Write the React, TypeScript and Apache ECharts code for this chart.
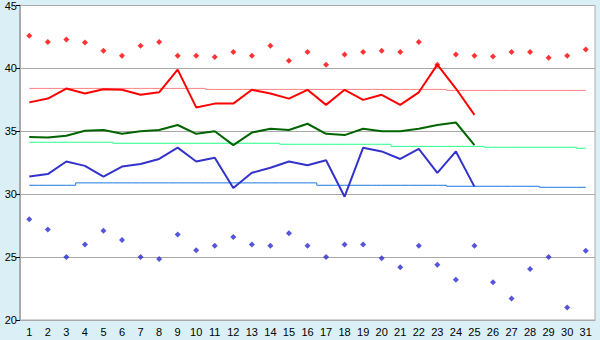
import React, { useEffect, useRef } from "react";
import * as echarts from "echarts";

const days = Array.from({ length: 31 }, (_, i) => String(i + 1));
const yTicks = { min: 20, max: 45, interval: 5 };

const maxPoints = [42.6, 42.1, 42.3, 42.05, 41.4, 41.0, 41.8, 42.1, 41.0, 41.0, 40.9, 41.3, 41.0, 41.8, 40.6, 41.3, 40.3, 41.1, 41.3, 41.4, 41.3, 42.1, 40.3, 41.1, 41.0, 40.95, 41.3, 41.3, 40.85, 41.0, 41.5];
const minPoints = [28.0, 27.2, 25.0, 26.0, 27.1, 26.35, 25.0, 24.85, 26.8, 25.55, 25.9, 26.6, 26.0, 25.9, 26.9, 25.9, 25.0, 26.0, 26.0, 24.9, 24.2, 25.9, 24.4, 23.2, 25.9, 23.0, 21.7, 24.05, 25.0, 21.0, 25.5];
const redLine = [37.3, 37.6, 38.4, 38.0, 38.35, 38.3, 37.9, 38.1, 39.9, 36.9, 37.2, 37.2, 38.3, 38.0, 37.6, 38.3, 37.1, 38.3, 37.5, 37.9, 37.1, 38.1, 40.3, 38.4, 36.3];
const greenLine = [34.55, 34.5, 34.65, 35.05, 35.1, 34.8, 35.0, 35.1, 35.5, 34.8, 35.0, 33.9, 34.9, 35.2, 35.1, 35.6, 34.8, 34.7, 35.2, 35.0, 35.0, 35.2, 35.5, 35.7, 33.9];
const blueLine = [31.4, 31.6, 32.6, 32.25, 31.4, 32.2, 32.4, 32.8, 33.7, 32.6, 32.9, 30.5, 31.7, 32.1, 32.6, 32.3, 32.7, 29.8, 33.7, 33.4, 32.8, 33.6, 31.7, 33.4, 30.6];
const redRef = [38.41, 38.41, 38.41, 38.41, 38.41, 38.41, 38.41, 38.41, 38.41, 38.41, 38.33, 38.33, 38.33, 38.33, 38.33, 38.33, 38.33, 38.33, 38.33, 38.33, 38.33, 38.33, 38.33, 38.25, 38.25, 38.25, 38.25, 38.25, 38.25, 38.25, 38.25];
const greenRef = [34.13, 34.13, 34.13, 34.13, 34.13, 34.05, 34.05, 34.05, 34.05, 34.05, 34.05, 34.05, 34.05, 34.05, 33.97, 33.97, 33.97, 33.97, 33.97, 33.97, 33.8, 33.8, 33.8, 33.8, 33.8, 33.73, 33.73, 33.73, 33.73, 33.73, 33.65];
const blueRef = [30.71, 30.71, 30.71, 30.9, 30.9, 30.9, 30.9, 30.9, 30.9, 30.9, 30.9, 30.9, 30.9, 30.9, 30.9, 30.9, 30.71, 30.71, 30.71, 30.71, 30.71, 30.71, 30.71, 30.63, 30.63, 30.63, 30.63, 30.63, 30.55, 30.55, 30.55];

const FONT = "Liberation Sans";

export default function App() {
  const ref = useRef<HTMLDivElement>(null);
  useEffect(() => {
    document.body.style.margin = "0";
    if (!ref.current) return;
    const chart = echarts.init(ref.current, null, { renderer: "svg" });
    const refLine = (data: number[], color: string) => ({
      type: "line",
      data,
      step: "middle",
      showSymbol: false,
      lineStyle: { color, width: 1 },
      z: 2,
    });
    const mainLine = (data: number[], color: string) => ({
      type: "line",
      data,
      showSymbol: false,
      lineStyle: { color, width: 2 },
      z: 3,
    });
    chart.setOption({
      animation: false,
      backgroundColor: "#daf0f6",
      grid: {
        left: 20,
        right: 5,
        top: 5,
        bottom: 20,
        show: true,
        backgroundColor: "#ffffff",
        borderColor: "#aaaaaa",
        borderWidth: 1,
      },
      xAxis: {
        type: "category",
        data: days,
        boundaryGap: true,
        axisLine: { lineStyle: { color: "#aaaaaa", width: 1 } },
        axisTick: { alignWithLabel: true, length: 5, lineStyle: { color: "#000" } },
        axisLabel: { color: "#000", fontFamily: FONT, fontSize: 11, margin: 6 },
        splitLine: { show: false },
      },
      yAxis: {
        type: "value",
        min: yTicks.min,
        max: yTicks.max,
        interval: yTicks.interval,
        axisLine: { show: true, lineStyle: { color: "#aaaaaa", width: 2 } },
        axisTick: { show: true, length: 4, lineStyle: { color: "#000" } },
        axisLabel: { color: "#000", fontFamily: FONT, fontSize: 11, margin: 3 },
        splitLine: { lineStyle: { color: "#aaaaaa", width: 1 } },
      },
      series: [
        refLine(redRef, "#ff8080"),
        refLine(greenRef, "#22ff88"),
        refLine(blueRef, "#1a78e0"),
        mainLine(redLine, "#ff0000"),
        mainLine(greenLine, "#006400"),
        mainLine(blueLine, "#3333cc"),
        {
          type: "scatter",
          data: maxPoints,
          symbol: "diamond",
          symbolSize: 6,
          itemStyle: { color: "#ff0000" },
          z: 4,
        },
        {
          type: "scatter",
          data: minPoints,
          symbol: "diamond",
          symbolSize: 6,
          itemStyle: { color: "#2b2bd0" },
          z: 4,
        },
      ],
    });
    return () => chart.dispose();
  }, []);
  return (
    <div
      ref={ref}
      style={{ position: "absolute", left: 0, top: 0, width: 600, height: 340 }}
    />
  );
}
